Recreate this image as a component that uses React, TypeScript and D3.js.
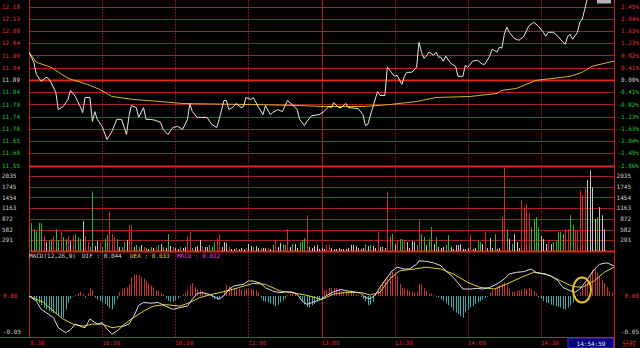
import React from "react";
import * as d3 from "d3";

// ---------------- data ----------------
const basePrice = 11.89;
const priceTickLabels = ["12.18", "12.13", "12.08", "12.04", "11.99", "11.94", "11.89", "11.84", "11.79", "11.74", "11.70", "11.65", "11.60", "11.55"];
const pctTickValues = [2.45, 2.04, 1.63, 1.23, 0.82, 0.41, 0, -0.41, -0.82, -1.23, -1.63, -2.04, -2.45, -2.86];
const pctTickLabels = ["2.45%", "2.04%", "1.63%", "1.23%", "0.82%", "0.41%", "0.00%", "-0.41%", "-0.82%", "-1.23%", "-1.63%", "-2.04%", "-2.45%", "-2.86%"];
const volTicks = [2035, 1745, 1454, 1163, 872, 582, 291];
const timeTicks = [0, 30, 60, 90, 120, 150, 180, 210, 240];
const timeLabels = ["9:30", "10:00", "10:30", "11:00", "13:00", "13:30", "14:00", "14:30"];
const macdTicks = [0, -0.05];
const macdTickLabels = ["0.00", "-0.05"];
const macdTitle = "MACD(12,26,9)";
const difLabel = "DIF : 0.044";
const deaLabel = "DEA : 0.033";
const macdLabel = "MACD : 0.022";
const cursorTime = "14:54:59";
const modeLabel = "分时";

// [minute, price]
const priceSeries: [number, number][] = [
  [0, 12.0], [2, 11.96], [3, 11.912], [5, 11.884], [7, 11.9], [8, 11.896], [9, 11.88], [11, 11.84], [12, 11.772],
  [14, 11.784], [16, 11.812], [17, 11.848], [19, 11.824], [21, 11.784], [22, 11.76], [23, 11.82], [25, 11.82],
  [26, 11.725], [27, 11.764], [28, 11.733], [30, 11.705], [32, 11.653], [34, 11.685], [36, 11.733], [38, 11.733],
  [40, 11.673], [41, 11.745], [42, 11.788], [44, 11.78], [45, 11.741], [47, 11.78], [48, 11.733], [50, 11.733],
  [52, 11.729], [54, 11.721], [55, 11.693], [57, 11.673], [59, 11.701], [61, 11.705], [63, 11.693], [65, 11.733],
  [66, 11.796], [67, 11.764], [69, 11.741], [73, 11.741], [75, 11.713], [77, 11.701], [78, 11.733], [80, 11.808],
  [81, 11.808], [82, 11.772], [84, 11.784], [85, 11.796], [87, 11.78], [88, 11.784], [89, 11.82], [91, 11.812],
  [92, 11.82], [94, 11.784], [96, 11.752], [97, 11.788], [99, 11.752], [100, 11.76], [102, 11.772], [104, 11.764],
  [106, 11.808], [108, 11.792], [110, 11.772], [111, 11.733], [113, 11.709], [114, 11.725], [116, 11.748],
  [119, 11.752], [121, 11.764], [123, 11.784], [124, 11.78], [125, 11.8], [127, 11.78], [128, 11.78], [130, 11.796],
  [131, 11.78], [135, 11.776], [137, 11.752], [138, 11.709], [139, 11.713], [141, 11.78], [143, 11.844],
  [144, 11.828], [146, 11.828], [147, 11.94], [148, 11.928], [150, 11.904], [151, 11.908], [153, 11.872],
  [154, 11.904], [155, 11.92], [157, 11.92], [159, 11.94], [160, 12.04], [161, 12.0], [162, 11.976], [163, 11.984],
  [164, 12.0], [166, 11.988], [167, 12.0], [168, 11.98], [169, 11.98], [170, 11.964], [171, 11.984], [173, 11.956],
  [175, 11.944], [176, 11.904], [178, 11.904], [179, 11.948], [180, 11.94], [182, 11.964], [184, 11.968],
  [186, 11.952], [187, 11.952], [189, 11.984], [190, 12.012], [192, 12.0], [193, 12.02], [194, 12.016],
  [195, 12.071], [196, 12.099], [197, 12.079], [199, 12.055], [201, 12.047], [203, 12.063], [205, 12.103],
  [207, 12.119], [209, 12.103], [211, 12.079], [212, 12.063], [213, 12.079], [215, 12.079], [217, 12.063],
  [219, 12.04], [220, 12.032], [221, 12.063], [222, 12.071], [223, 12.051], [225, 12.079], [226, 12.119],
  [227, 12.131], [228, 12.171], [229, 12.211], [232, 12.27], [235, 12.3],
];

// [minute, average price]
const avgSeries: [number, number][] = [
  [0, 12.0], [3, 11.96], [9, 11.94], [16, 11.896], [24, 11.872], [29, 11.852], [34, 11.824], [43, 11.812],
  [54, 11.804], [63, 11.796], [91, 11.792], [111, 11.788], [121, 11.784], [137, 11.784], [148, 11.792],
  [159, 11.804], [167, 11.82], [181, 11.824], [192, 11.836], [194, 11.848], [200, 11.856], [208, 11.888],
  [222, 11.904], [227, 11.92], [231, 11.944], [238, 11.96], [240, 11.964],
];

// volume per minute (index = minute)
const volumes = [
  2052, 756, 594, 540, 756, 756, 405, 243, 270, 324,
  405, 594, 297, 513, 378, 324, 405, 270, 432, 459,
  378, 324, 810, 405, 243, 108, 1620, 135, 270, 243,
  108, 324, 432, 1053, 459, 378, 324, 108, 108, 243,
  297, 702, 702, 108, 162, 108, 162, 108, 81, 54,
  108, 81, 108, 162, 189, 108, 81, 459, 135, 108,
  81, 54, 108, 81, 108, 378, 513, 81, 108, 135,
  297, 135, 108, 108, 162, 108, 243, 324, 459, 108,
  243, 216, 108, 54, 54, 81, 54, 81, 54, 81,
  189, 135, 108, 135, 81, 81, 81, 81, 81, 54,
  162, 297, 108, 216, 189, 162, 594, 108, 189, 189,
  81, 243, 297, 351, 972, 108, 81, 135, 162, 54,
  81, 54, 162, 162, 81, 54, 54, 81, 54, 54,
  54, 81, 162, 162, 135, 81, 54, 81, 189, 135,
  162, 135, 81, 513, 108, 108, 81, 1620, 405, 459,
  189, 297, 324, 324, 297, 243, 81, 270, 243, 162,
  837, 459, 378, 162, 324, 648, 189, 378, 108, 81,
  108, 162, 432, 108, 54, 162, 162, 189, 54, 54,
  81, 459, 54, 81, 270, 243, 189, 513, 81, 351,
  81, 459, 54, 81, 918, 2268, 594, 324, 189, 459,
  243, 81, 1377, 1188, 1269, 1026, 648, 864, 918, 648,
  405, 324, 189, 243, 189, 243, 270, 513, 513, 459,
  594, 594, 972, 702, 567, 567, 1647, 1512, 1728, 1917,
  2187, 1728, 864, 918, 1188, 972, 594,
];
// r = up, g = down, w = unchanged (one char per minute)
const volumeDirections =
  "rgggggrwgg" + "rggrggrwrg" + "ggwrrggwwr" + "gggrrrgwgg" + "wrrwggwrgw" +
  "gwrgwgwgwr" + "wwgwwrrgww" + "wrwwgggrrw" + "wwrwwgwwwr" + "wwgwwgwwrw" +
  "grwwggrwgw" + "wgggrwwwww" + "wwrrwwwwww" + "wwwwwwwwgw" + "gwwrwwwrrg" +
  "wrggrwwwwg" + "rggwggwgww" + "wggwwwwwww" + "wrwwggwrww" + "wgwwrrgwgw" +
  "wwrrrrgggg" + "wwwrwggggg" + "rrggrrrrrw" + "wwwgwww";

// MACD histogram per minute
const macdHist = [
  0, -0.002, -0.004, -0.007, -0.01, -0.013, -0.016, -0.019, -0.021, -0.022,
  -0.024, -0.025, -0.028, -0.029, -0.03, -0.019, -0.009, -0.004, -0.001, 0.002,
  0.004, 0.006, 0.003, -0.002, 0.004, 0.011, 0.008, -0.002, -0.005, -0.007,
  -0.009, -0.011, -0.014, -0.017, -0.0185, -0.012, -0.004, 0.005, 0.009, 0.011,
  0.012, 0.016, 0.026, 0.03, 0.03, 0.029, 0.026, 0.024, 0.021, 0.017,
  0.015, 0.012, 0.008, 0.007, 0.004, 0.002, -0.003, -0.007, -0.008, -0.008,
  -0.006, -0.003, -0.001, 0.002, 0.005, 0.009, 0.015, 0.018, 0.012, 0.01,
  0.009, 0.007, 0.005, 0.003, 0.001, -0.002, -0.004, -0.005, -0.004, -0.001,
  0.008, 0.016, 0.014, 0.012, 0.011, 0.01, 0.01, 0.009, 0.009, 0.01,
  0.009, 0.01, 0.009, 0.008, 0.005, -0.003, -0.007, -0.008, -0.009, -0.01,
  -0.012, -0.014, -0.012, -0.009, -0.006, -0.003, 0.001, 0.003, 0.004, 0.003,
  0.001, -0.003, -0.008, -0.012, -0.015, -0.016, -0.013, -0.011, -0.008, -0.006,
  -0.004, 0.007, 0.009, 0.011, 0.011, 0.011, 0.011, 0.009, 0.007, 0.006,
  0.006, 0.005, 0.005, 0.004, 0.003, 0.002, -0.001, -0.004, -0.007, -0.013,
  -0.012, -0.008, 0.004, 0.01, 0.014, 0.019, 0.022, 0.026, 0.03, 0.034,
  0.033, 0.028, 0.017, 0.011, 0.01, 0.009, 0.007, 0.006, 0.005, 0.005,
  0.017, 0.016, 0.011, 0.007, 0.004, 0.003, 0.001, -0.001, -0.002, -0.005,
  -0.007, -0.01, -0.013, -0.016, -0.02, -0.023, -0.025, -0.028, -0.03, -0.023,
  -0.019, -0.016, -0.014, -0.011, -0.009, -0.007, -0.005, -0.003, -0.001, 0.005,
  0.008, 0.01, 0.013, 0.015, 0.017, 0.019, 0.014, 0.009, 0.006, 0.006,
  0.007, 0.008, 0.009, 0.01, 0.01, 0.011, 0.01, 0.007, 0.004, -0.002,
  -0.004, -0.007, -0.009, -0.01, -0.012, -0.013, -0.014, -0.015, -0.016, -0.018,
  -0.019, -0.016, -0.013, -0.009, -0.004, 0.002, 0.005, 0.011, 0.017, 0.019,
  0.03, 0.036, 0.037, 0.033, 0.028, 0.022, 0.018, 0.012, 0.007, 0.005,
];

const difSeries: [number, number][] = [
  [0, 0], [3, -0.007], [5, -0.0185], [7, -0.023], [10, -0.03], [12, -0.044], [15, -0.051], [17, -0.047],
  [19, -0.039], [21, -0.042], [23, -0.044], [25, -0.032], [28, -0.039], [30, -0.037], [32, -0.046], [34, -0.053],
  [36, -0.049], [38, -0.043], [41, -0.039], [43, -0.028], [45, -0.013], [47, -0.009], [50, -0.01], [53, -0.009],
  [56, -0.014], [59, -0.0185], [62, -0.016], [65, -0.014], [67, -0.0046], [69, 0.0037], [71, 0.0046],
  [74, 0.0023], [76, -0.0009], [78, -0.0046], [80, 0.0009], [82, 0.0093], [84, 0.0139], [88, 0.0162],
  [90, 0.0208], [92, 0.0208], [95, 0.0176], [97, 0.0116], [100, 0.0069], [103, 0.0046], [105, 0.0056],
  [108, 0.0056], [110, 0.0023], [112, -0.0069], [114, -0.0116], [116, -0.0093], [119, -0.0056], [120, -0.004],
  [122, 0.0005], [125, 0.006], [128, 0.009], [130, 0.0074], [133, 0.006], [136, 0.004], [138, -0.002],
  [140, -0.004], [142, 0.0014], [144, 0.012], [147, 0.026], [149, 0.035], [151, 0.04], [154, 0.0375],
  [156, 0.0375], [159, 0.044], [160, 0.049], [163, 0.048], [166, 0.046], [169, 0.042], [171, 0.035],
  [174, 0.026], [177, 0.014], [178, 0.0097], [181, 0.0097], [184, 0.0106], [186, 0.0097], [189, 0.012],
  [192, 0.0167], [195, 0.0236], [197, 0.0306], [200, 0.0329], [203, 0.0338], [206, 0.0375], [208, 0.0329],
  [211, 0.0306], [214, 0.0282], [217, 0.0213], [219, 0.012], [222, 0.0074], [224, 0.005], [226, 0.0097],
  [229, 0.0227], [232, 0.0375], [234, 0.044], [237, 0.046], [240, 0.042],
];

const deaSeries: [number, number][] = [
  [0, 0], [6, -0.009], [10, -0.021], [14, -0.032], [18, -0.039], [22, -0.042], [26, -0.039], [30, -0.039],
  [34, -0.044], [38, -0.042], [42, -0.032], [47, -0.021], [51, -0.014], [56, -0.012], [62, -0.014],
  [66, -0.009], [70, -0.0023], [75, 0.0023], [81, 0.0069], [86, 0.0116], [92, 0.0176], [97, 0.0162],
  [103, 0.0069], [108, 0.0046], [114, 0.0009], [119, -0.0037], [120, -0.005], [125, 0.0028], [130, 0.005],
  [136, 0.005], [140, 0.0014], [144, 0.005], [148, 0.0236], [152, 0.035], [158, 0.0375], [163, 0.04],
  [169, 0.0375], [174, 0.0306], [180, 0.019], [185, 0.012], [191, 0.0097], [196, 0.0167], [202, 0.026],
  [207, 0.0329], [212, 0.0306], [218, 0.0213], [223, 0.0134], [227, 0.012], [232, 0.0213], [236, 0.0329],
  [240, 0.04],
];

// ---------------- layout ----------------
const W = 640;
const H = 348;
const LEFT = 29;
const RIGHT = 614;
const FONT = "'DejaVu Sans Mono', monospace";

const x = d3.scaleLinear().domain([0, 240]).range([LEFT, RIGHT]);
const yPct = d3.scaleLinear().domain([-2.86, 2.45]).range([165.5, 6.5]);
const pctOf = (p: number) => (p / basePrice - 1) * 100;
const yVol = d3.scaleLinear().domain([0, 2035]).range([251, 176]);
const yMacd = d3.scaleLinear().domain([-0.05, 0]).range([332, 296]);

const px = (v: number) => Math.round(v) + 0.5;

const priceLine = d3.line<[number, number]>().x((d) => x(d[0])).y((d) => yPct(pctOf(d[1])));
const macdLine = d3.line<[number, number]>().x((d) => x(d[0])).y((d) => yMacd(d[1]));

const RED_GRID = "#ac1e1e";
const BRIGHT_RED = "#e02424";
const DIM_V = "#7a1818";

export default function App() {
  const dirColor = (c: string) => (c === "r" ? "#d82c2c" : c === "g" ? "#2fb82f" : "#c4c4c4");
  const pctColor = (v: number) => (v > 0 ? "#e03434" : v < 0 ? "#34c034" : "#d4d4d4");
  return (
    <svg width={W} height={H} style={{ position: "absolute", left: 0, top: 0, display: "block" }} fontFamily={FONT}>
      <defs>
        <clipPath id="clipPrice">
          <rect x={LEFT} y={0} width={RIGHT - LEFT} height={166} />
        </clipPath>
        <clipPath id="clipVol">
          <rect x={LEFT} y={167} width={RIGHT - LEFT} height={85} />
        </clipPath>
      </defs>
      <rect x={0} y={0} width={W} height={H} fill="#000" />

      {/* vertical grid */}
      {timeTicks.map((t, i) => {
        const bright = t === 0 || t === 120 || t === 240;
        return (
          <line key={"vg" + i} x1={px(x(t))} x2={px(x(t))} y1={0} y2={t === 240 ? H : 337}
            stroke={bright ? "#c42020" : DIM_V} strokeWidth={1} strokeDasharray={bright ? undefined : "2,1"} />
        );
      })}

      {/* price grid */}
      {pctTickValues.map((v, i) => {
        const strong = v === 0 || i === pctTickValues.length - 1;
        return (
          <line key={"pg" + i} x1={LEFT} x2={RIGHT} y1={px(yPct(v))} y2={px(yPct(v))}
            stroke={strong ? BRIGHT_RED : RED_GRID} strokeWidth={strong ? 2 : 1} />
        );
      })}
      {priceTickLabels.map((l, i) => (
        <text key={"pl" + i} x={2} y={yPct(pctTickValues[i]) + 2.2} fontSize={6} fill={pctColor(pctTickValues[i])}>{l}</text>
      ))}
      {pctTickLabels.map((l, i) => (
        <text key={"pr" + i} x={639} y={yPct(pctTickValues[i]) + 2.2} fontSize={6} textAnchor="end" fill={pctColor(pctTickValues[i])}>{l}</text>
      ))}

      {/* volume grid */}
      {volTicks.map((v, i) => (
        <line key={"vgl" + i} x1={LEFT} x2={RIGHT} y1={px(yVol(v))} y2={px(yVol(v))} stroke={RED_GRID} strokeWidth={1} />
      ))}
      <line x1={LEFT} x2={RIGHT} y1={yVol(0) + 0.5} y2={yVol(0) + 0.5} stroke={BRIGHT_RED} strokeWidth={2} />
      {volTicks.map((v, i) => (
        <g key={"vl" + i}>
          <text x={2} y={yVol(v) + 2.2} fontSize={6} fill="#cfcfcf">{v}</text>
          <text x={631} y={yVol(v) + 2.2} fontSize={6} textAnchor="end" fill="#cfcfcf">{v}</text>
        </g>
      ))}

      {/* volume bars */}
      <g clipPath="url(#clipVol)">
        {volumes.map((v, i) => (
          <line key={"vb" + i} x1={px(x(i))} x2={px(x(i))} y1={yVol(0)} y2={yVol(v)}
            stroke={dirColor(volumeDirections[i])} strokeWidth={1} />
        ))}
      </g>

      {/* price + average */}
      <g clipPath="url(#clipPrice)">
        <path d={priceLine(avgSeries) || ""} fill="none" stroke="#d6b41e" strokeWidth={1} />
        <path d={priceLine(priceSeries) || ""} fill="none" stroke="#e8e8e8" strokeWidth={1} />
      </g>
      <rect x={597} y={0} width={14} height={3.5} fill="#b4b4b4" />

      {/* MACD title row */}
      <text x={29} y={258} fontSize={6} fill="#d8d8d8">{macdTitle}</text>
      <text x={82} y={258} fontSize={6} fill="#d8d8d8">{difLabel}</text>
      <text x={130} y={258} fontSize={6} fill="#e0d030">{deaLabel}</text>
      <text x={177} y={258} fontSize={6} fill="#e040e0">{macdLabel}</text>

      {/* MACD histogram */}
      {macdHist.map((v, i) => (
        <line key={"mh" + i} x1={px(x(i))} x2={px(x(i))} y1={yMacd(0)} y2={yMacd(v)}
          stroke={v >= 0 ? "#c83434" : "#3aacac"} strokeWidth={1} />
      ))}
      <path d={macdLine(deaSeries) || ""} fill="none" stroke="#e0d428" strokeWidth={1} />
      <path d={macdLine(difSeries) || ""} fill="none" stroke="#dcdcf0" strokeWidth={1} />

      {macdTicks.map((v, i) => (
        <g key={"mt" + i}>
          <text x={3} y={yMacd(v) + 2.2} fontSize={6} fill={v === 0 ? "#e03434" : "#cfcfcf"}>{macdTickLabels[i]}</text>
          <text x={639} y={yMacd(v) + 2.2} fontSize={6} textAnchor="end" fill={v === 0 ? "#e03434" : "#cfcfcf"}>{macdTickLabels[i]}</text>
        </g>
      ))}

      {/* annotation circle */}
      <ellipse cx={582} cy={290} rx={9} ry={12.5} fill="none" stroke="#f0c020" strokeWidth={2} />

      {/* time axis */}
      <line x1={0} x2={RIGHT} y1={337.5} y2={337.5} stroke="#c42020" strokeWidth={1} />
      {timeLabels.map((l, i) => (
        <text key={"tl" + i} x={x(timeTicks[i]) + (i === 0 ? 1 : 0)} y={345} fontSize={6} fill="#c83030">{l}</text>
      ))}
      <rect x={568} y={338} width={45.5} height={10} fill="#00007a" stroke="#3a3ac8" strokeWidth={1} />
      <text x={591} y={345.5} fontSize={6} textAnchor="middle" fill="#e4e4ff">{cursorTime}</text>
      <text x={622} y={346} fontSize={7} fill="#d83030" fontFamily="'Noto Sans CJK SC', sans-serif">{modeLabel}</text>
    </svg>
  );
}
